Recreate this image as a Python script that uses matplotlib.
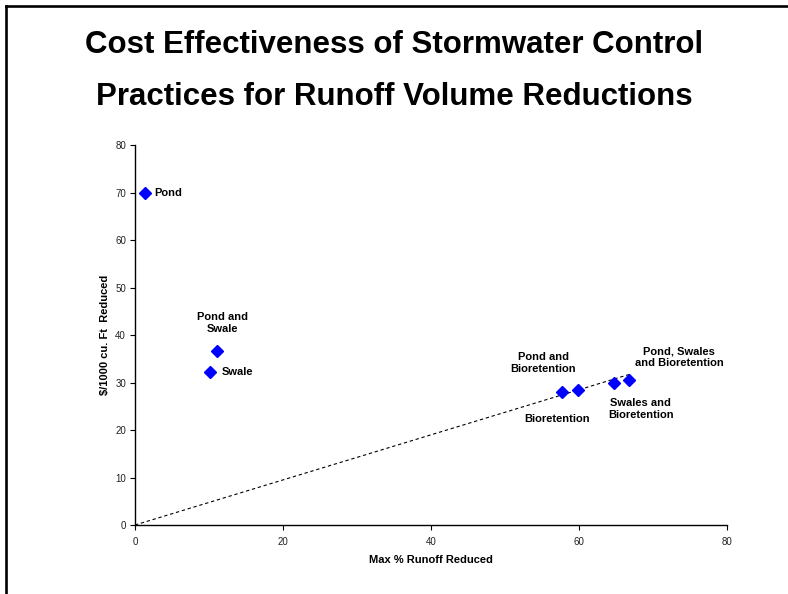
import matplotlib
matplotlib.use("Agg")
import matplotlib.pyplot as plt
from matplotlib.lines import Line2D

plt.rcParams['font.family'] = ['Liberation Sans', 'DejaVu Sans']

# ---- data ----
practices = ["Pond", "Pond and\nSwale", "Swale", "Bioretention",
             "Pond and\nBioretention", "Swales and\nBioretention",
             "Pond, Swales\nand Bioretention"]
runoff_reduced = [1.4, 11.1, 10.2, 57.7, 59.8, 64.7, 66.8]
cost_per_1000cf = [69.9, 36.6, 32.2, 27.9, 28.4, 30.0, 30.5]
trend_x = [0, 67]
trend_y = [0, 31.8]
x_ticks = [0, 20, 40, 60, 80]
y_ticks = [0, 10, 20, 30, 40, 50, 60, 70, 80]

title_lines = ["Cost Effectiveness of Stormwater Control",
               "Practices for Runoff Volume Reductions"]

# label offsets in pixels (dx, dy) and alignment
label_offsets = [(9, 0, 'left'), (5, 28, 'center'), (11, 0, 'left'),
                 (-4.5, -27, 'center'), (-34, 27, 'center'),
                 (27, -26.5, 'center'), (50, 23, 'center')]

fig = plt.figure(figsize=(7.88, 5.94), dpi=100)
W, H = 788, 594
ax = fig.add_axes([135 / W, 1 - 525 / H, (727 - 135) / W, (525 - 145) / H])

ax.plot(trend_x, trend_y, linestyle=(0, (3, 2.5)), color='black', linewidth=0.8, zorder=2)
ax.plot(runoff_reduced, cost_per_1000cf, linestyle='none', marker='D',
        markersize=6, color='#0000FF', markeredgecolor='#0000FF', zorder=3)

for name, x, y, (dx, dy, ha) in zip(practices, runoff_reduced, cost_per_1000cf, label_offsets):
    ax.annotate(name, (x, y), xytext=(dx, dy), textcoords='offset pixels',
                ha=ha, va='center', fontsize=8, fontweight='bold',
                linespacing=1.25, color='black')

ax.set_xlim(0, 80)
ax.set_ylim(0, 80)
ax.set_xticks(x_ticks)
ax.set_yticks(y_ticks)
ax.tick_params(direction='out', length=3.5, width=0.8, labelsize=7,
               labelcolor='#222222', color='black')
ax.tick_params(axis='x', pad=5)
ax.tick_params(axis='y', pad=3)
for s in ['top', 'right']:
    ax.spines[s].set_visible(False)
for s in ['left', 'bottom']:
    ax.spines[s].set_linewidth(1.0)

ax.set_xlabel("Max % Runoff Reduced", fontsize=8, fontweight='bold', labelpad=6)
ax.set_ylabel("$/1000 cu. Ft  Reduced", fontsize=8, fontweight='bold', labelpad=4)

fig.text(394 / W, 1 - 45 / H, title_lines[0], ha='center', va='center',
         fontsize=22.5, fontweight='bold')
fig.text(394 / W, 1 - 97 / H, title_lines[1], ha='center', va='center',
         fontsize=22.5, fontweight='bold')

# slide border (left and top)
fig.add_artist(Line2D([6 / W, 6 / W], [0, 1 - 6 / H], transform=fig.transFigure,
                      color='black', linewidth=1.9))
fig.add_artist(Line2D([6 / W, 1], [1 - 6 / H, 1 - 6 / H], transform=fig.transFigure,
                      color='black', linewidth=1.9))

fig.savefig("out.png", dpi=100)
